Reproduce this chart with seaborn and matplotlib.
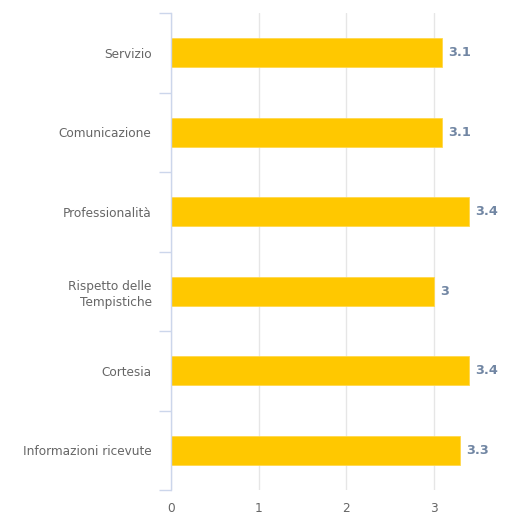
import matplotlib
matplotlib.use("Agg")
import matplotlib.pyplot as plt
import seaborn as sns
import pandas as pd
import numpy as np

categories = ["Servizio", "Comunicazione", "Professionalità",
              "Rispetto delle\nTempistiche", "Cortesia", "Informazioni ricevute"]
values = [3.1, 3.1, 3.4, 3.0, 3.4, 3.3]
x_ticks = [0, 1, 2, 3, 4]

df = pd.DataFrame({"categoria": categories, "valore": values})

sns.set_theme(style="white")
plt.rcParams["font.family"] = ["DejaVu Sans"]

fig = plt.figure(figsize=(5.18, 5.16), dpi=100)
ax = fig.add_axes([171 / 518, 1 - 490 / 516, 350 / 518, 477 / 516])

sns.barplot(data=df, y="categoria", x="valore", orient="h", color="#ffc800",
            saturation=1, width=0.37, ax=ax, edgecolor="#ffd84d", linewidth=0.6)

ax.set_xlim(0, 4)
ax.set_ylim(5.5, -0.5)
ax.set_xlabel("")
ax.set_ylabel("")

# vertical grid
ax.set_xticks(x_ticks)
ax.set_xticklabels([str(t) for t in x_ticks], color="#666666", fontsize=8.7)
ax.xaxis.grid(True, color="#e6e6e6", linewidth=1)
ax.set_axisbelow(True)
ax.tick_params(axis="x", length=0, pad=9)
for lbl in ax.get_xticklabels():
    lbl.set_clip_on(False)

# category axis
ax.set_yticks(range(len(categories)))
ax.set_yticklabels(categories, color="#666666", fontsize=8.7, linespacing=1.3)
ax.set_yticks(np.arange(-0.5, len(categories)), minor=True)
ax.tick_params(axis="y", which="major", length=0, pad=14)
ax.tick_params(axis="y", which="minor", length=9, width=1, color="#ccd6eb", left=True)

for side in ["top", "right", "bottom"]:
    ax.spines[side].set_visible(False)
ax.spines["left"].set_color("#ccd6eb")
ax.spines["left"].set_linewidth(1)

# value labels
for i, v in enumerate(values):
    ax.annotate(f"{v:g}", xy=(v, i), xytext=(4.5, 0), textcoords="offset points",
                ha="left", va="center", fontsize=9.3, fontweight="bold",
                color="#7186a3")

fig.savefig("out.png", dpi=100)
